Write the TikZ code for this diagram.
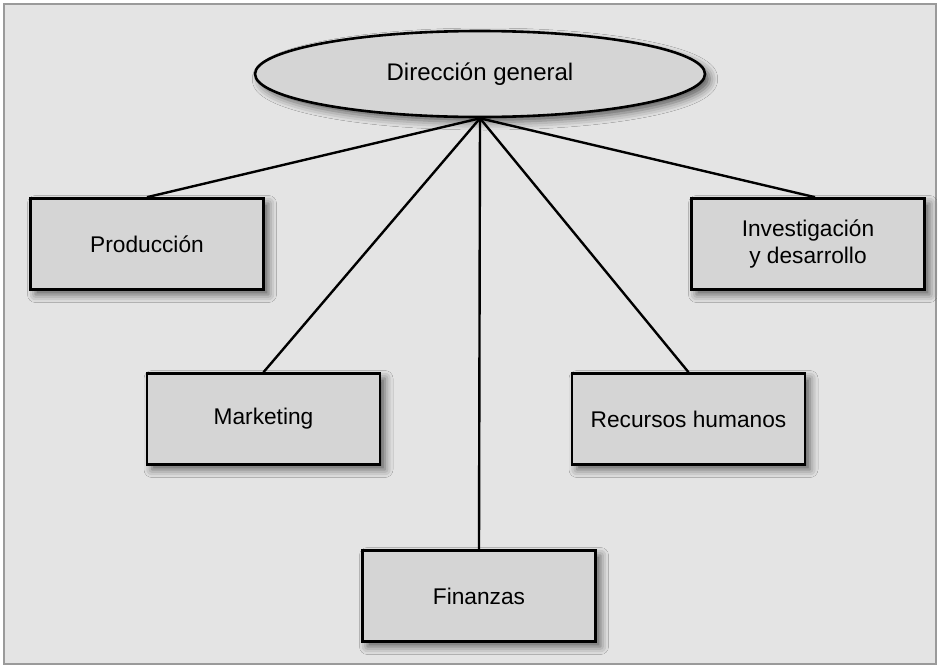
\documentclass[tikz,border=0pt]{standalone}
\usepackage{fontspec}
\setmainfont{Liberation Sans}
\usepackage{xcolor}
\usetikzlibrary{shapes.geometric,shadows.blur}
\definecolor{framebg}{HTML}{E4E4E4}
\definecolor{frameline}{HTML}{9A9A9A}
\definecolor{boxfill}{HTML}{D5D5D5}

\begin{document}
\begin{tikzpicture}[
    x=1pt, y=-1pt,
    dept/.style={rectangle, draw, line width=2.6pt, fill=boxfill, minimum width=233pt, minimum height=91pt, inner sep=0pt, align=center, font=\fontsize{22.7}{27}\selectfont,
        blur shadow={shadow xshift=5pt, shadow yshift=-5pt, shadow blur radius=8pt, shadow opacity=60}},
    head/.style={ellipse, draw, line width=2.6pt, fill=boxfill, minimum width=450pt, minimum height=86pt, inner sep=0pt, font=\fontsize{24}{28}\selectfont,
        blur shadow={shadow xshift=5pt, shadow yshift=-5pt, shadow blur radius=8pt, shadow opacity=60}},
    link/.style={line width=2.4pt}
]

% Frame
\useasboundingbox (0,0) rectangle (940,667);
\draw[frameline, fill=framebg, line width=2.5pt] (4,4) rectangle (936,664);

% Organisation chart
\node[head] (direccion) at (480,74) {Dirección general};
\node[dept] (produccion) at (147,244) {Producción};
\node[dept] (investigacion) at (808,244) {Investigación\\y desarrollo};
\node[dept] (marketing) at (263.5,419) {Marketing};
\node[dept] (recursos) at (688.5,419) {Recursos humanos};
\node[dept] (finanzas) at (479,596) {Finanzas};

% Connections
\draw[link] (direccion.south) -- (produccion.north);
\draw[link] (direccion.south) -- (marketing.north);
\draw[link] (direccion.south) -- (finanzas.north);
\draw[link] (direccion.south) -- (recursos.north);
\draw[link] (direccion.south) -- ([xshift=7pt]investigacion.north);

\end{tikzpicture}
\end{document}
